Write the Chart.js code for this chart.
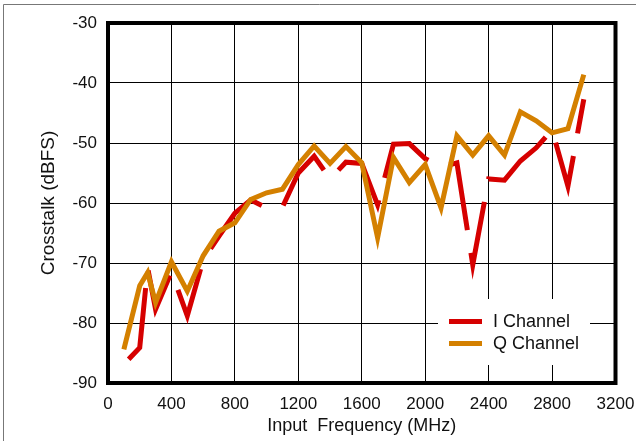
<!DOCTYPE html>
<html>
<head>
<meta charset="utf-8">
<script src="https://cdn.jsdelivr.net/npm/chart.js@4.4.1/dist/chart.umd.min.js"></script>
<style>
  html, body { margin: 0; padding: 0; background: #fff; }
  #wrap { width: 636px; height: 441px; }
</style>
</head>
<body>
<div id="wrap"><canvas id="crosstalk" width="636" height="441"></canvas></div>
<script>
// frequencies (MHz) and crosstalk (dBFS)
var freqs = [100, 200, 250, 300, 400, 500, 600, 700, 800, 900, 1000, 1100, 1200, 1300, 1400, 1500,
             1600, 1700, 1800, 1900, 2000, 2100, 2200, 2300, 2400, 2500, 2600, 2700, 2800, 2900, 3000];
var iChannel = [-86.9, -84.1, -70.8, -77.7, -71.5, -78.8, -69.5, -65.5, -61.7, -59.5, -60.8, -60.7, -55, -52.2, -56, -53.2,
                -53.4, -60.3, -50.2, -50.1, -52.6, -54, -53.3, -70.3, -56, -56.2, -53, -50.8, -47.8, -57.2, -42.7];
var qChannel = [-84.4, -73.8, -71.6, -76.6, -69.8, -74.7, -68.8, -64.7, -63.3, -59.4, -58.3, -57.7, -53.6, -50.5, -53.4, -50.6,
                -53.3, -65.8, -52.4, -56.6, -53.6, -60.8, -48.8, -52, -48.8, -52, -44.8, -46.3, -48.3, -47.6, -38.6];
var seriesNames = ['I Channel', 'Q Channel'];
var xTicks = [0, 400, 800, 1200, 1600, 2000, 2400, 2800, 3200];
var yTicks = [-90, -80, -70, -60, -50, -40, -30];

function toPoints(vals) {
    return freqs.map(function (f, i) { return { x: f, y: vals[i] }; });
}

var RED = 'rgb(214, 0, 0)';
var ORANGE = 'rgb(212, 128, 0)';
var FONT = '"Liberation Sans", Arial, sans-serif';

// frame, plot box and the legend inside the plot
var decorations = {
    id: 'decorations',
    beforeDraw: function (chart) {
        var c = chart.ctx;
        c.save();
        c.strokeStyle = '#777';
        c.lineWidth = 1;
        c.beginPath();
        c.moveTo(3.5, chart.height);
        c.lineTo(3.5, 4.5);
        c.lineTo(chart.width, 4.5);
        c.stroke();
        c.restore();
    },
    afterDatasetsDraw: function (chart) {
        var c = chart.ctx, a = chart.chartArea;
        c.save();
        // legend
        var bx = 438, by = 299, bw = 152, bh = 66;
        c.fillStyle = '#fff';
        c.fillRect(bx, by, bw, bh);
        c.font = '18px ' + FONT;
        c.textBaseline = 'middle';
        chart.data.datasets.forEach(function (ds, i) {
            var ly = 321.5 + i * 22;
            c.strokeStyle = ds.borderColor;
            c.lineWidth = 5;
            c.setLineDash([]);
            c.beginPath();
            c.moveTo(449, ly);
            c.lineTo(482, ly);
            c.stroke();
            c.fillStyle = '#111';
            c.fillText(ds.label, 493, ly + 1);
        });
        // plot box
        c.strokeStyle = '#000';
        c.lineWidth = 4;
        c.strokeRect(a.left, a.top, a.right - a.left, a.bottom - a.top);
        c.restore();
    }
};

var ctx = document.getElementById('crosstalk').getContext('2d');
var chart = new Chart(ctx, {
    type: 'line',
    data: {
        datasets: [{
            label: seriesNames[0],
            data: toPoints(iChannel),
            borderColor: RED,
            borderWidth: 5,
            borderDash: [76, 23],
            borderDashOffset: 92,
            borderJoinStyle: 'miter',
            pointRadius: 0,
            tension: 0,
            order: 2
        }, {
            label: seriesNames[1],
            data: toPoints(qChannel),
            borderColor: ORANGE,
            borderWidth: 5,
            borderJoinStyle: 'miter',
            pointRadius: 0,
            tension: 0,
            order: 1
        }]
    },
    options: {
        responsive: false,
        animation: false,
        devicePixelRatio: 1,
        layout: { padding: { top: 23, right: 20.5, left: 0, bottom: 0 } },
        plugins: {
            legend: { display: false },
            tooltip: { enabled: false }
        },
        scales: {
            x: {
                type: 'linear',
                min: 0,
                max: 3200,
                afterBuildTicks: function (s) { s.ticks = xTicks.map(function (v) { return { value: v }; }); },
                afterFit: function (s) { s.height = 58; s.paddingRight = 0; s.paddingLeft = 0; },
                grid: { color: '#000', lineWidth: 1, drawTicks: false },
                border: { display: false },
                ticks: {
                    padding: 11,
                    color: '#111',
                    maxRotation: 0,
                    callback: function (v) { return String(v); },
                    font: { family: FONT, size: 17 }
                },
                title: {
                    display: true,
                    text: 'Input  Frequency (MHz)',
                    color: '#111',
                    padding: { top: 0, bottom: 4 },
                    font: { family: FONT, size: 18 }
                }
            },
            y: {
                min: -90,
                max: -30,
                afterBuildTicks: function (s) { s.ticks = yTicks.map(function (v) { return { value: v }; }); },
                afterFit: function (s) { s.width = 108; s.paddingTop = 0; s.paddingBottom = 0; },
                grid: { color: '#000', lineWidth: 1, drawTicks: false },
                border: { display: false },
                ticks: {
                    padding: 11,
                    color: '#111',
                    font: { family: FONT, size: 17 }
                },
                title: {
                    display: true,
                    text: 'Crosstalk (dBFS)',
                    color: '#111',
                    padding: { top: 37, bottom: 0 },
                    font: { family: FONT, size: 19 }
                }
            }
        }
    },
    plugins: [decorations]
});
</script>
</body>
</html>
